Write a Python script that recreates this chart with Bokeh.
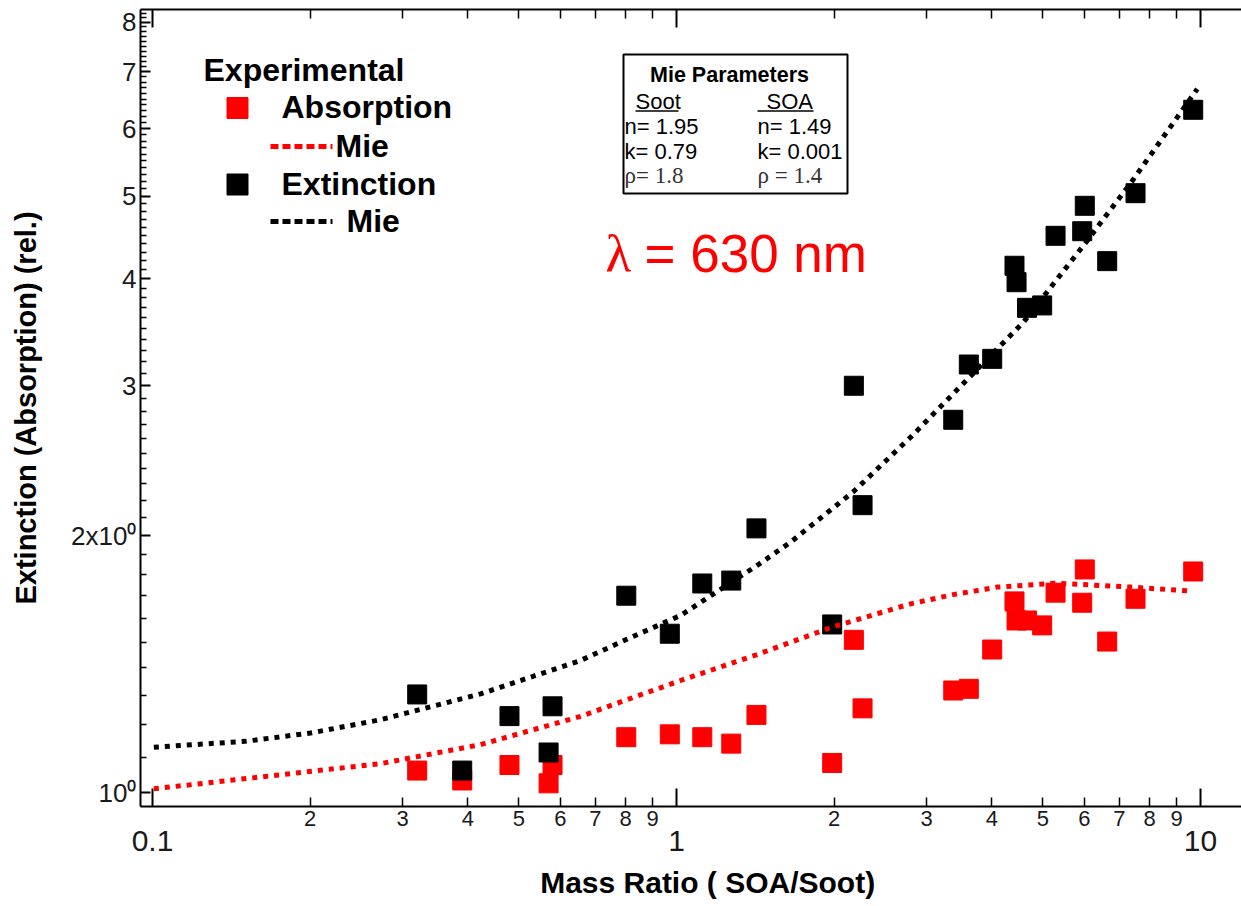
import math
from bokeh.plotting import figure
from bokeh.models import FixedTicker, LogAxis, Label, BoxAnnotation, Range1d
from bokeh.embed import file_html
from bokeh.resources import INLINE

# ---------------- data ----------------
mass_ratio = [0.320, 0.390, 0.480, 0.570, 0.580, 0.802, 0.971, 1.120, 1.272, 1.421,
              1.982, 2.180, 2.265, 3.374, 3.613, 4.004, 4.416, 4.456, 4.666, 4.987,
              5.289, 5.946, 6.014, 6.637, 7.516, 9.685]
extinction = [1.303, 1.061, 1.229, 1.114, 1.262, 1.701, 1.535, 1.758, 1.772, 2.040,
              1.574, 2.998, 2.172, 2.735, 3.175, 3.224, 4.145, 3.965, 3.700, 3.724,
              4.494, 4.550, 4.873, 4.197, 5.042, 6.315]
absorption = [1.061, 1.033, 1.077, 1.025, 1.077, 1.161, 1.170, 1.161, 1.141, 1.233,
              1.083, 1.510, 1.255, 1.317, 1.323, 1.471, 1.675, 1.591, 1.591, 1.570,
              1.715, 1.669, 1.826, 1.503, 1.687, 1.816]

mie_ext_x = [0.1006, 0.15, 0.2, 0.2723, 0.4227, 0.6557, 0.8, 1.018, 1.42, 1.65, 2.18, 2.797, 4.594, 5.98, 7.35, 9.86]
mie_ext_y = [1.130, 1.148, 1.174, 1.217, 1.305, 1.428, 1.510, 1.613, 1.843, 1.965, 2.255, 2.609, 3.560, 4.378, 5.176, 6.68]
mie_abs_x = [0.1006, 0.2723, 0.4227, 0.6557, 1.018, 1.42, 1.982, 2.797, 3.37, 4.093, 5.243, 5.98, 7.35, 9.643]
mie_abs_y = [1.010, 1.081, 1.138, 1.228, 1.353, 1.450, 1.563, 1.664, 1.706, 1.741, 1.759, 1.753, 1.741, 1.722]

x_major = [0.1, 1, 10]
x_major_labels = ["0.1", "1", "10"]
x_minor = [0.2, 0.3, 0.4, 0.5, 0.6, 0.7, 0.8, 0.9, 2, 3, 4, 5, 6, 7, 8, 9]
x_minor_labels = ["2", "3", "4", "5", "6", "7", "8", "9", "2", "3", "4", "5", "6", "7", "8", "9"]
y_major = [1, 2, 3, 4, 5, 6, 7, 8]
y_major_labels = ["10\u2070", "2x10\u2070", "3", "4", "5", "6", "7", "8"]
y_minor = [round(1 + 0.1 * k, 1) for k in range(1, 73) if k % 10 != 0]

x_title = "Mass Ratio ( SOA/Soot)"
y_title = "Extinction (Absorption) (rel.)"
mie_params_title = "Mie Parameters"
soot_params = ["n= 1.95", "k= 0.79", "\u03c1= 1.8"]
soa_params = ["n= 1.49", "k= 0.001", "\u03c1 = 1.4"]

# ---------------- layout ----------------
W, H = 1241, 906
FL, FT, FR, FB = 140, 9, 1241, 806      # frame edges in canvas pixels
X0 = 10 ** (-1 - (152 - FL) / 524.0)
X1 = 10 ** (1 + (FR - 1200) / 524.0)
Y0 = 10 ** (-(FB - 792) / 853.0)
Y1 = 10 ** ((792 - FT) / 853.0)

def fx(px):
    a, b = math.log10(X0), math.log10(X1)
    return 10 ** (a + (px - FL) / (FR - FL) * (b - a))

def fy(py):
    a, b = math.log10(Y0), math.log10(Y1)
    return 10 ** (b - (py - FT) / (FB - FT) * (b - a))

FONT = "Liberation Sans"
RED = "#ff0000"
TXT = "#1a1a1a"

p = figure(width=W, height=H, x_axis_type="log", y_axis_type="log",
           x_range=Range1d(X0, X1), y_range=Range1d(Y0, Y1),
           x_axis_location=None, y_axis_location=None,
           output_backend="svg", toolbar_location=None,
           min_border_left=FL, min_border_right=W - FR, min_border_top=FT,
           min_border_bottom=H - FB)
p.outline_line_color = None
p.grid.visible = False
p.background_fill_color = "white"
p.border_fill_color = "white"

def frame_axis():
    return LogAxis(ticker=FixedTicker(ticks=x_major, minor_ticks=x_minor),
                   major_tick_in=18, major_tick_out=0, minor_tick_in=9, minor_tick_out=0,
                   axis_line_width=2, major_tick_line_width=2, minor_tick_line_width=1.5,
                   major_label_overrides={v: "" for v in x_major},
                   major_label_text_font_size="0px", major_label_standoff=0)

p.add_layout(frame_axis(), "below")
p.add_layout(frame_axis(), "above")

ax_minor_lab = LogAxis(ticker=FixedTicker(ticks=x_minor, minor_ticks=[]),
                       axis_line_color=None, major_tick_line_color=None,
                       major_tick_in=0, major_tick_out=0, minor_tick_in=0, minor_tick_out=0,
                       major_label_overrides=dict(zip(x_minor, x_minor_labels)),
                       major_label_text_font=FONT, major_label_text_font_size="22px",
                       major_label_text_color=TXT, major_label_standoff=4)
p.add_layout(ax_minor_lab, "below")

ax_major_lab = LogAxis(ticker=FixedTicker(ticks=x_major, minor_ticks=[]),
                       axis_line_color=None, major_tick_line_color=None,
                       major_tick_in=0, major_tick_out=0, minor_tick_in=0, minor_tick_out=0,
                       major_label_overrides=dict(zip(x_major, x_major_labels)),
                       major_label_text_font=FONT, major_label_text_font_size="30px",
                       major_label_text_color=TXT, major_label_standoff=2,
                       axis_label="\u00a0\u00a0\u00a0\u00a0" + x_title,
                       axis_label_text_font=FONT, axis_label_text_font_size="30px",
                       axis_label_text_font_style="bold", axis_label_text_color="black",
                       axis_label_standoff=12)
p.add_layout(ax_major_lab, "below")

ay = LogAxis(ticker=FixedTicker(ticks=y_major, minor_ticks=y_minor),
             major_tick_in=10, major_tick_out=0, minor_tick_in=6, minor_tick_out=0,
             axis_line_width=2, major_tick_line_width=2, minor_tick_line_width=1.5,
             major_label_overrides=dict(zip(y_major, y_major_labels)),
             major_label_text_font=FONT, major_label_text_font_size="26px",
             major_label_text_color=TXT, major_label_standoff=4,
             axis_label=y_title, axis_label_text_font=FONT, axis_label_text_font_size="29px",
             axis_label_text_font_style="bold", axis_label_text_color="black",
             axis_label_standoff=26)
p.add_layout(ay, "left")

# ---------------- data marks ----------------
p.scatter(mass_ratio, absorption, marker="square", size=19, color=RED)
p.scatter(mass_ratio, extinction, marker="square", size=19, color="black")
p.line(mie_abs_x, mie_abs_y, color=RED, line_width=5, line_dash="5 6")
p.line(mie_ext_x, mie_ext_y, color="black", line_width=5, line_dash="5 6")

# ---------------- text helper (py = vertical centre of the text) ----------------
def lab(px, py, text, size, color="black", style="normal", font=FONT, align="left"):
    p.add_layout(Label(x=fx(px), y=fy(py), text=text, text_font=font, text_font_size=size,
                       text_font_style=style, text_color=color, text_align=align,
                       text_baseline="alphabetic"))

# ---------------- legend ----------------
lab(203, 69.5, "Experimental", "32px", style="bold")
p.scatter([fx(237)], [fy(107.5)], marker="square", size=21, color=RED)
lab(281, 106.5, "Absorption", "32px", style="bold")
p.line([fx(270), fx(332)], [fy(146)] * 2, color=RED, line_width=5, line_dash="8 4")
lab(335, 145, "Mie", "32px", style="bold")
p.scatter([fx(237)], [fy(184)], marker="square", size=21, color="black")
lab(281, 183, "Extinction", "32px", style="bold")
p.line([fx(270), fx(332)], [fy(221)] * 2, color="black", line_width=5, line_dash="8 4")
lab(346, 220, "Mie", "32px", style="bold")

# ---------------- Mie parameter box ----------------
p.add_layout(BoxAnnotation(left=fx(623), right=fx(847), top=fy(54), bottom=fy(193),
                           fill_alpha=0, line_color="black", line_alpha=1, line_width=2))
lab(729, 74.7, mie_params_title, "21.5px", style="bold", align="center")
lab(635, 100.5, "Soot", "22px")
lab(766, 100.5, "SOA", "22px")
p.line([fx(635), fx(678)], [fy(110.5)] * 2, color="black", line_width=1.5)
p.line([fx(757), fx(813)], [fy(110.5)] * 2, color="black", line_width=1.5)
for i, (a, b) in enumerate(zip(soot_params, soa_params)):
    cy = [125.5, 150.5, 175][i]
    fnt = "Liberation Serif" if i == 2 else FONT
    sz = "23px" if i == 2 else "22px"
    col = "#333333" if i == 2 else "black"
    lab(624, cy, a, sz, font=fnt, color=col)
    lab(757, cy, b, sz, font=fnt, color=col)

# ---------------- wavelength annotation ----------------
lab(605, 252.5, "\u03bb", "53px", color=RED, font="Liberation Serif")
lab(644, 252.5, "= 630 nm", "53px", color=RED)

open("out.html", "w").write(file_html(p, INLINE))
